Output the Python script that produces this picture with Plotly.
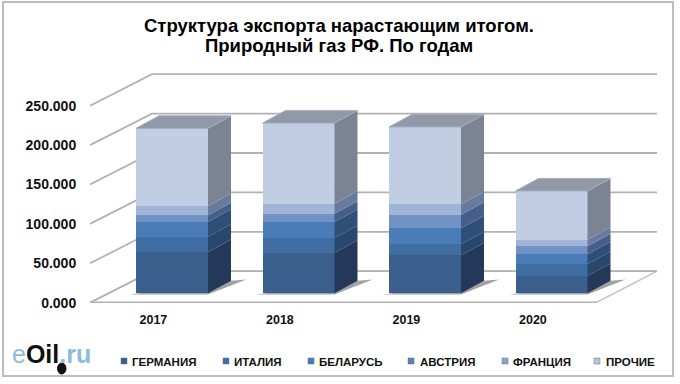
import plotly.graph_objects as go

# ---- data ----
years = ["2017", "2018", "2019", "2020"]
germany = [52.4, 51.5, 48.2, 22.0]
italy = [19.4, 18.6, 14.0, 15.2]
belarus = [19.0, 20.3, 20.3, 12.3]
austria = [8.1, 10.5, 17.3, 10.2]
france = [11.8, 12.7, 13.2, 8.4]
others = [98.6, 102.4, 98.1, 61.8]
names = ["ГЕРМАНИЯ", "ИТАЛИЯ", "БЕЛАРУСЬ", "АВСТРИЯ", "ФРАНЦИЯ", "ПРОЧИЕ"]
y_ticks = [0, 50, 100, 150, 200, 250]
y_tick_labels = ["0.000", "50.000", "100.000", "150.000", "200.000", "250.000"]

series = [germany, italy, belarus, austria, france, others]
front_colors = ["#3A5F8C", "#406EA3", "#4A7DB8", "#7092C4", "#A0B4D6", "#C1CDE2"]
side_colors = ["#24395A", "#27476C", "#2D4F78", "#465F8A", "#667B9E", "#7C8494"]
legend_colors = ["#3A5F8C", "#406EA3", "#4A7DB8", "#5F7FAE", "#8FA3C4", "#B8C4DA"]
legend_text_x = [132, 234, 319, 420, 513, 606]
legend_key_x = [124, 226, 311, 411, 505, 597]
top_color = "#9198A8"
grid_color = "#B2B2B2"

# ---- plot area and oblique projection ----
W, H = 680, 384
L, R, T, B = 90, 657, 70, 303
PX_X = 126.5          # pixels per category
PX_Y = 0.788          # pixels per value unit
x_rng = [(L - 172) / PX_X, (R - 172) / PX_X]
y_rng = [(293.3 - B) / PX_Y, (293.3 - T) / PX_Y]
wall_dx, wall_dy = 62 / PX_X, 31.5 / PX_Y      # depth of the whole chart box
front_dx, front_dy = 18.6 / PX_X, 11.9         # bars stand this far behind the front edge
bar_dx, bar_dy = 23 / PX_X, 12.5 / PX_Y        # depth of a bar
bar_w = 72 / PX_X
x_front = x_rng[0]
x_front_end = (596 - 172) / PX_X
x_back_end = x_rng[1]

fig = go.Figure()


def poly(xs, ys, fill, line="rgba(0,0,0,0)", width=0, axes="x2", yaxis="y2"):
    fig.add_trace(go.Scatter(
        x=xs + xs[:1], y=ys + ys[:1], mode="lines", fill="toself", fillcolor=fill,
        line=dict(color=line, width=width), hoverinfo="skip", showlegend=False,
        xaxis=axes, yaxis=yaxis))


# floor
f0 = y_ticks[0] - front_dy
poly([x_front, x_front + wall_dx, x_back_end, x_front_end],
     [f0, f0 + wall_dy, f0 + wall_dy, f0], "#FFFFFF", "#C4C4C4", 1.6, "x", "y")

# walls: one polyline per tick, left wall then back wall
for t in y_ticks:
    yy = t - front_dy
    fig.add_trace(go.Scatter(
        x=[x_front, x_front + wall_dx, x_back_end], y=[yy, yy + wall_dy, yy + wall_dy],
        mode="lines", line=dict(color=grid_color, width=1.8), hoverinfo="skip",
        showlegend=False, xaxis="x", yaxis="y"))
fig.add_trace(go.Scatter(
    x=[x_front, x_front_end], y=[f0, f0], mode="lines",
    line=dict(color=grid_color, width=2.2), hoverinfo="skip", showlegend=False,
    xaxis="x", yaxis="y"))

xs_center = list(range(len(years)))

# shadows on the floor
for i in xs_center:
    xl, xr = i - bar_w / 2, i + bar_w / 2
    poly([xl - 0.05, xr, xr + bar_dx + 0.12, xr + bar_dx],
         [-1.5, -1.5, bar_dy + 1.5, bar_dy], "rgba(70,70,70,0.5)", axes="x", yaxis="y")

# front faces: native stacked bars
for name, vals, col in zip(names, series, front_colors):
    fig.add_trace(go.Bar(
        x=xs_center, y=vals, name=name, marker=dict(color=col, line=dict(width=0)),
        width=bar_w, showlegend=False, legendgroup=name, xaxis="x2", yaxis="y2"))

# side and top faces computed from the stacked values
for i in xs_center:
    xr = i + bar_w / 2
    xl = i - bar_w / 2
    cum = 0
    for vals, col in zip(series, side_colors):
        y0, y1 = cum, cum + vals[i]
        poly([xr, xr + bar_dx, xr + bar_dx, xr],
             [y0, y0 + bar_dy, y1 + bar_dy, y1], col)
        cum = y1
    poly([xl, xl + bar_dx, xr + bar_dx, xr],
         [cum, cum + bar_dy, cum + bar_dy, cum], top_color, "#A4ACBC", 1)


def px(x):
    return (x - L) / (R - L)


def py(y):
    return (B - y) / (B - T)


# one legend per entry, so that each name sits where the reference has it
legends = {}
for k, (name, tx) in enumerate(zip(names, legend_text_x)):
    key = "legend" if k == 0 else f"legend{k + 1}"
    fig.add_trace(go.Scatter(
        x=[None], y=[None], mode="markers", name=name, legendgroup=name, legend=key,
        marker=dict(symbol="square", size=6, color="rgba(0,0,0,0)"),
        xaxis="x2", yaxis="y2"))
    legends[key] = dict(
        x=px(tx - 40), xanchor="left", y=py(361), yanchor="middle",
        font=dict(size=11.5, color="#111111", weight="bold"), itemwidth=30,
        bgcolor="rgba(0,0,0,0)", itemclick=False, itemdoubleclick=False)

key_shapes = [
    dict(type="rect", xref="paper", yref="paper", x0=px(kx - 3), x1=px(kx + 3), y0=py(364), y1=py(358),
         fillcolor=col, line=dict(color="#5A7396", width=0.5))
    for kx, col in zip(legend_key_x, legend_colors)
]

fig.update_layout(
    width=W, height=H, autosize=False,
    margin=dict(l=L, r=W - R, t=T, b=H - B, autoexpand=False),
    paper_bgcolor="white", plot_bgcolor="white",
    barmode="stack", bargap=0,
    font=dict(family="Liberation Sans, Arial, sans-serif", color="#111111"),
    title=dict(
        text="Структура экспорта нарастающим итогом.",
        x=339 / W, xanchor="center", y=1 - 26 / H, yanchor="middle",
        font=dict(size=18.5, color="black", weight="bold")),
    xaxis=dict(
        range=x_rng, showgrid=False, zeroline=False, showline=False,
        tickmode="array", tickvals=[i - front_dx for i in xs_center], ticktext=years,
        tickfont=dict(size=12.5, weight="bold"), ticks="outside", ticklen=5, tickcolor="rgba(0,0,0,0)"),
    yaxis=dict(
        range=y_rng, showgrid=False, zeroline=False, showline=False,
        tickmode="array", tickvals=[t - front_dy for t in y_ticks], ticktext=y_tick_labels,
        tickfont=dict(size=14, weight="bold"), ticks="outside", ticklen=10, tickcolor="rgba(0,0,0,0)"),
    xaxis2=dict(range=x_rng, overlaying="x", visible=False, anchor="y2"),
    yaxis2=dict(range=y_rng, overlaying="y", visible=False, anchor="x2"),
    annotations=[
        dict(xref="paper", yref="paper", x=px(339), y=py(46), xanchor="center", yanchor="middle",
             showarrow=False, font=dict(size=18.5, color="black", weight="bold"),
             text="Природный газ РФ. По годам"),
        dict(xref="paper", yref="paper", x=px(10), y=py(354), xanchor="left", yanchor="middle",
             showarrow=False, font=dict(size=25, family="Liberation Sans, Arial, sans-serif", color="#8DBBDD"),
             text="e<span style='color:#111111;font-weight:bold'>Oil</span><b>.ru</b>"),
    ],
    shapes=[
        dict(type="rect", xref="paper", yref="paper", x0=px(3), x1=px(673), y0=py(376), y1=py(2),
             line=dict(color="#BDBDBD", width=2), layer="below"),
        dict(type="circle", xref="paper", yref="paper", x0=px(57.5), x1=px(66), y0=py(374), y1=py(363),
             fillcolor="#111111", line=dict(color="#111111", width=1)),
    ] + key_shapes,
    **legends,
)

fig.write_html("out.html", post_script="document.body.style.margin='0';",
               config={"displayModeBar": False})
